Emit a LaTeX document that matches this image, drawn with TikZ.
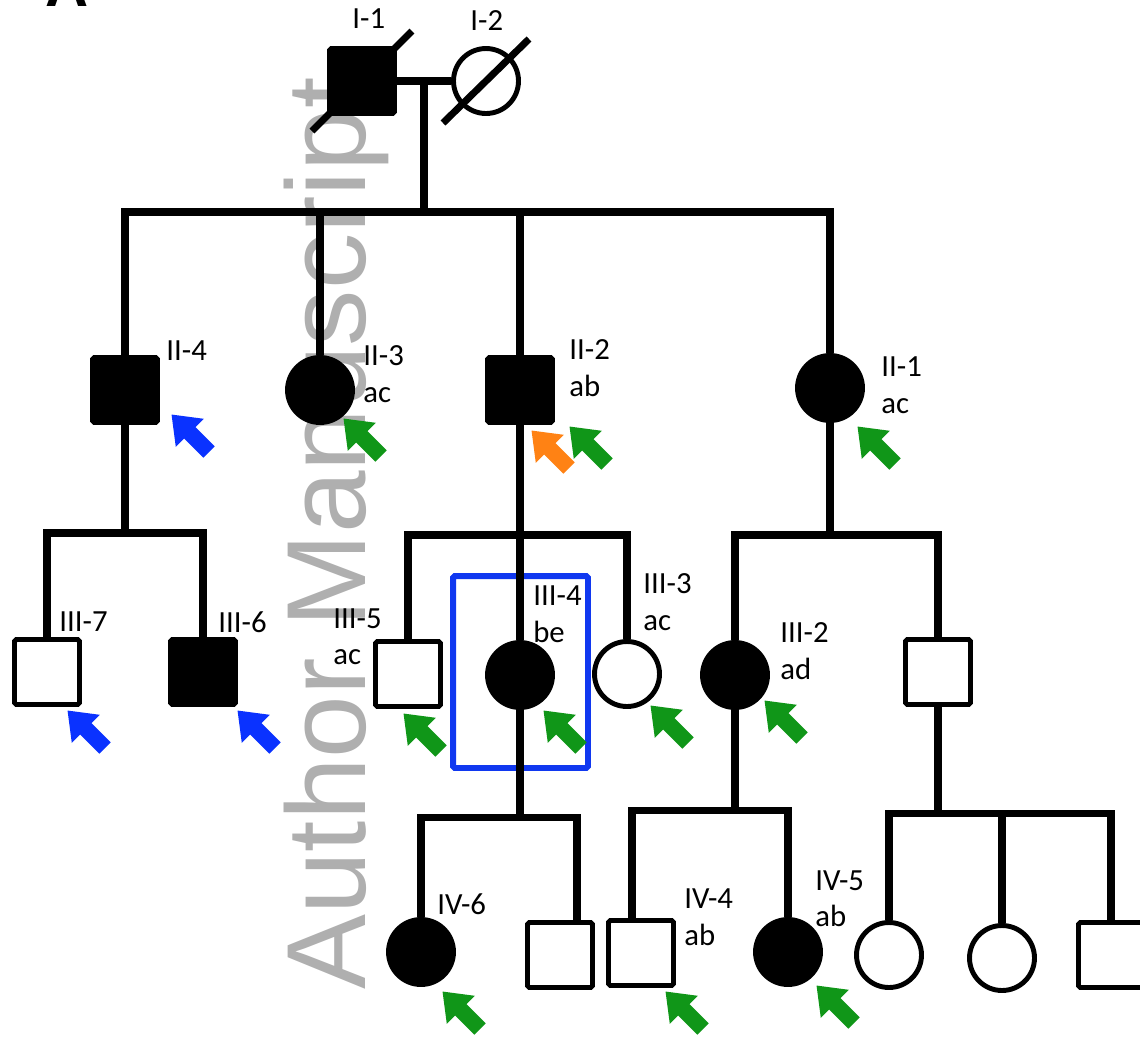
\documentclass[tikz,border=0pt]{standalone}
\usepackage{fontspec}
\setmainfont{Carlito}
\newfontfamily\wmfont{Liberation Sans}
\usetikzlibrary{shapes.arrows,calc}

\definecolor{grn}{RGB}{16,150,24}
\definecolor{blu}{RGB}{10,50,255}
\definecolor{org}{RGB}{255,130,20}
\definecolor{hlblue}{RGB}{16,56,240}
\definecolor{wmgrey}{RGB}{175,175,175}

\begin{document}
\begin{tikzpicture}[
    x=0.02cm, y=-0.02cm,
    line/.style={line width=4pt},
    male/.style={draw, rectangle, line width=2.8pt, rounded corners=1pt,
      minimum size=1.3cm, inner sep=0pt},
    female/.style={draw, circle, line width=2.8pt, minimum size=1.3cm, inner sep=0pt},
    aff/.style={fill=black},
    lab/.style={anchor=north west, inner sep=0pt, align=left,
      font=\fontsize{17.5}{21}\selectfont},
    ptr/.style={single arrow, fill=#1, rotate=135, inner sep=0.155cm,
      minimum height=1.06cm, single arrow head extend=0.235cm,
      single arrow tip angle=75}
  ]
  \path[use as bounding box] (0,0) rectangle (1140,1039);
  \clip (0,0) rectangle (1140,1039);

  % watermark and panel letter
  \node[rotate=90, anchor=base west, inner sep=0pt, text=wmgrey,
    font=\wmfont\fontsize{64}{64}\selectfont] (wmark) at (365,990) {Author Manuscript};
  \node[anchor=base west, inner sep=0pt,
    font=\wmfont\bfseries\fontsize{34}{34}\selectfont] (panel) at (45,6) {A};

  % proband box
  \node[draw=hlblue, line width=3.4pt, rounded corners=1pt,
    minimum width=2.7cm, minimum height=3.84cm] (focus) at (520.5,672) {};

  % generation I
  \node[male, aff] (I1) at (362,81) {};
  \node[female] (I2) at (486,81) {};
  % generation II
  \node[male, aff] (II4) at (125,390) {};
  \node[female, aff] (II3) at (320,390) {};
  \node[male, aff] (II2) at (520,390) {};
  \node[female, aff] (II1) at (830,388) {};
  % generation III
  \node[male] (III7) at (47,672) {};
  \node[male, aff] (III6) at (203,672) {};
  \node[male] (III5) at (408,674) {};
  \node[female, aff] (III4) at (520,675) {};
  \node[female] (III3) at (627,674) {};
  \node[female, aff] (III2) at (735,675) {};
  \node[male] (IIIx) at (938,672) {};
  % generation IV
  \node[female, aff] (IV6) at (421,952) {};
  \node[male] (IV7) at (560,955) {};
  \node[male] (IV4) at (641,953) {};
  \node[female, aff] (IV5) at (788,952) {};
  \node[female] (IV1) at (889,955) {};
  \node[female] (IV2) at (1002,958) {};
  \node[male] (IV3) at (1111,955) {};

  % deceased
  \draw[line] ($(I1)+(-50,50)$) -- ($(I1)+(50,-50)$);
  \draw[line] ($(I2)+(-43,42)$) -- ($(I2)+(43,-42)$);

  % lines of descent
  \coordinate (m1) at (424,81);
  \coordinate (sib1) at (424,212);
  \coordinate (sib2) at (125,533);
  \coordinate (sib3) at (520,535);
  \coordinate (sib4) at (830,535);
  \coordinate (sib5) at (520,817);
  \coordinate (sib6) at (735,810);
  \coordinate (sib7) at (938,813);
  \draw[line] (I1) -- (I2);
  \draw[line] (m1) -- (sib1);
  \draw[line] (II4.north) |- (sib1) -| (II1.north);
  \draw[line] (II3.north) -- (II3.north |- sib1);
  \draw[line] (II2.north) -- (II2.north |- sib1);
  \draw[line] (II4.south) -- (sib2);
  \draw[line] (III7.north) |- (sib2) -| (III6.north);
  \draw[line] (II2.south) -- (sib3) -- (III4.north);
  \draw[line] (III5.north) |- (sib3) -| (III3.north);
  \draw[line] (II1.south) -- (sib4);
  \draw[line] (III2.north) |- (sib4) -| (IIIx.north);
  \draw[line] (III4.south) -- (sib5);
  \draw[line] (IV6.north) |- (sib5) -| ([xshift=0.34cm]IV7.north);
  \draw[line] (III2.south) -- (sib6);
  \draw[line] ([xshift=-0.18cm]IV4.north) |- (sib6) -| (IV5.north);
  \draw[line] (IIIx.south) -- (sib7);
  \draw[line] (IV1.north) |- (sib7) -| (IV3.north);
  \draw[line] (IV2.north) -- (IV2.north |- sib7);

  % labels
  \node[lab] (lI1) at (352,8) {I-1};
  \node[lab] (lI2) at (470,10) {I-2};
  \node[lab] (lII4) at (166,340) {II-4};
  \node[lab] (lII3) at (363,345) {II-3\\ac};
  \node[lab] (lII2) at (569,339) {II-2\\ab};
  \node[lab] (lII1) at (881,356) {II-1\\ac};
  \node[lab] (lIII7) at (59,611) {III-7};
  \node[lab] (lIII6) at (218,611) {III-6};
  \node[lab] (lIII5) at (333,608) {III-5\\ac};
  \node[lab] (lIII4) at (533,585) {III-4\\be};
  \node[lab] (lIII3) at (643,573) {III-3\\ac};
  \node[lab] (lIII2) at (780,622) {III-2\\ad};
  \node[lab] (lIV6) at (437,893) {IV-6};
  \node[lab] (lIV4) at (684,888) {IV-4\\ab};
  \node[lab] (lIV5) at (815,870) {IV-5\\ab};

  % pointers
  \foreach \px/\py/\c [count=\i] in {194/437/blu, 366/441/grn, 554/453/org,
      592/449/grn, 880/449/grn, 90/733/blu, 260/733/blu, 426/736/grn,
      566/733/grn, 673/728/grn, 787/723/grn, 465/1014/grn, 688/1014/grn,
      839/1008/grn}
    \node[ptr=\c] (p\i) at (\px,\py) {};
\end{tikzpicture}
\end{document}
